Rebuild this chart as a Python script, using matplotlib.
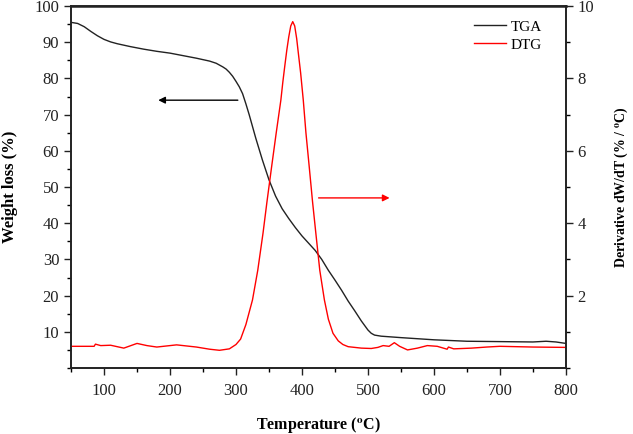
import numpy as np
import matplotlib.pyplot as plt
from matplotlib.ticker import MultipleLocator

plt.rcParams['font.family'] = ['Liberation Serif', 'DejaVu Serif']
plt.rcParams['mathtext.fontset'] = 'stix'

# TGA curve: temperature (C) vs weight (%)
tga_T = [50, 60, 70, 80, 90, 100, 110, 120, 140, 160, 180, 200, 220, 240, 260,
         270, 280, 285, 290, 295, 300, 305, 310, 315, 320, 330, 340, 350, 360,
         370, 380, 390, 400, 410, 420, 430, 440, 450, 460, 470, 480, 490, 500,
         505, 510, 520, 550, 600, 650, 700, 750, 770, 785, 800]
tga_w = [95.5, 95.2, 94.3, 93.0, 91.8, 90.8, 90.1, 89.6, 88.8, 88.1, 87.5, 87.0,
         86.3, 85.6, 84.8, 84.2, 83.2, 82.6, 81.7, 80.6, 79.2, 77.7, 75.8, 73.0,
         70.0, 63.5, 57.5, 52.0, 47.5, 44.0, 41.3, 38.8, 36.5, 34.5, 32.5, 30.0,
         27.0, 24.3, 21.5, 18.5, 15.8, 13.0, 10.5, 9.6, 9.1, 8.8, 8.4, 7.8, 7.4,
         7.3, 7.2, 7.4, 7.2, 6.8]

# DTG curve: temperature (C) vs derivative (%/C)
dtg_T = [50, 80, 85, 87, 95, 110, 130, 150, 165, 180, 210, 240, 260, 275, 290,
         300, 307, 315, 325, 333, 341, 347, 354, 361, 368, 371, 374, 377, 380,
         383, 386, 389, 392, 394, 398, 402, 406, 411, 416, 421, 427, 434, 440,
         447, 455, 462, 470, 490, 505, 515, 523, 532, 540, 548, 560, 575, 590,
         605, 620, 622, 630, 657, 680, 700, 750, 800]
dtg_d = [0.6, 0.6, 0.6, 0.66, 0.62, 0.63, 0.55, 0.68, 0.62, 0.58, 0.64, 0.58,
         0.52, 0.49, 0.53, 0.65, 0.8, 1.2, 1.88, 2.7, 3.73, 4.6, 5.56, 6.5, 7.4,
         7.9, 8.35, 8.78, 9.15, 9.45, 9.57, 9.45, 9.1, 8.78, 8.15, 7.4, 6.5, 5.56,
         4.6, 3.73, 2.7, 1.88, 1.35, 0.96, 0.75, 0.65, 0.59, 0.55, 0.54, 0.57,
         0.62, 0.6, 0.7, 0.6, 0.5, 0.55, 0.62, 0.6, 0.52, 0.58, 0.53, 0.55, 0.58,
         0.6, 0.58, 0.57]

fig = plt.figure(figsize=(6.33, 4.34), dpi=100)
ax = fig.add_axes([0.1122, 0.152, 0.7818, 0.834])
ax2 = ax.twinx()

l1, = ax.plot(tga_T, tga_w, color='#222222', lw=1.0, label='TGA')
l2, = ax2.plot(dtg_T, dtg_d, color='red', lw=1.0, label='DTG')

ax.set_xlim(50, 800)
ax.set_ylim(0, 100)
ax2.set_ylim(0, 10)

ax.set_xticks(range(100, 801, 100))
ax.xaxis.set_minor_locator(MultipleLocator(50))
ax.set_yticks(range(10, 101, 10))
ax.yaxis.set_minor_locator(MultipleLocator(5))
ax2.set_yticks([2, 4, 6, 8, 10])
ax2.yaxis.set_minor_locator(MultipleLocator(1))

for a in (ax, ax2):
    a.tick_params(which='major', direction='out', length=5, width=1, labelsize=12, colors='#222222')
    a.tick_params(which='minor', direction='out', length=3, width=1)
    for s in a.spines.values():
        s.set_linewidth(1.2)
        s.set_color('#222222')
ax.spines['top'].set_linewidth(1.8)
ax.tick_params(axis='x', pad=6)

ax.set_xlabel(r'Temperature ($^{\mathbf{o}}$C)', fontsize=11.5, fontweight='bold', labelpad=11)
ax.set_ylabel('Weight loss (%)', fontsize=12, fontweight='bold', labelpad=12)
ax2.set_ylabel(r'Derivative dW/dT (% / $^{\mathbf{o}}$C)', fontsize=10, fontweight='bold', labelpad=13)

ax.annotate('', xy=(178, 74), xytext=(307, 74),
            arrowprops=dict(arrowstyle='-|>', color='black', lw=1.0, mutation_scale=10))
ax2.annotate('', xy=(537, 4.7), xytext=(421, 4.7),
             arrowprops=dict(arrowstyle='-|>', color='red', lw=1.0, mutation_scale=10))

leg = ax2.legend([l1, l2], ['TGA', 'DTG'], loc='upper right', frameon=False,
                 fontsize=11, handlelength=2.1, handletextpad=0.3, labelspacing=0.3,
                 bbox_to_anchor=(0.98, 1.0))

fig.savefig('out.png', dpi=100)
